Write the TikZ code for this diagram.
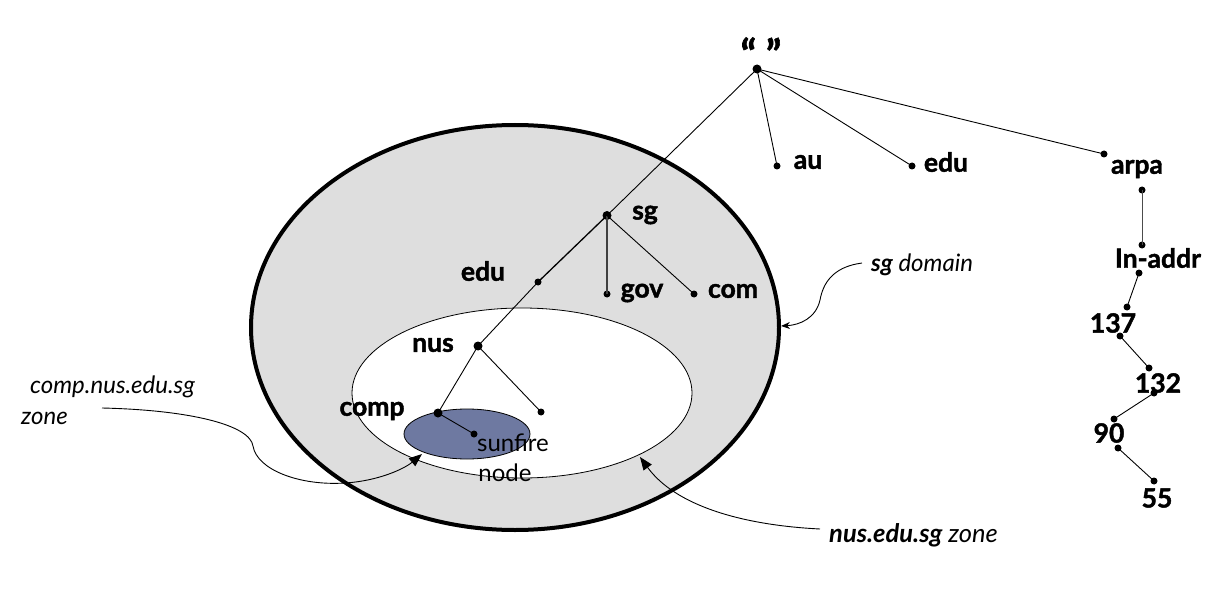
\documentclass[tikz,border=0pt]{standalone}
\usepackage{fontspec}
\setmainfont{Lato}[BoldFeatures={FakeBold=1.6}]
\usetikzlibrary{arrows.meta}
\definecolor{ringgray}{HTML}{DEDEDE}
\definecolor{zoneblue}{HTML}{6E79A1}
\begin{document}
\begin{tikzpicture}[x=1pt,y=-1pt,
  lbl/.style={font=\fontsize{26.5}{30}\selectfont\bfseries, inner sep=0},
  plain/.style={font=\fontsize{24}{28}\selectfont, inner sep=0},
  ann/.style={font=\fontsize{24}{28}\selectfont\itshape, inner sep=0, anchor=west},
  dot/.style={circle,fill=black,inner sep=0,minimum size=7pt},
  bigdot/.style={dot,minimum size=9pt},
  edge/.style={draw=black,line width=0.9pt},
  pointer/.style={draw=black,line width=0.9pt}]
\useasboundingbox (0,0) rectangle (1219,591);
% zones
\draw[fill=ringgray,line width=4pt] (515,327.5) ellipse [x radius=264, y radius=202.5];
\draw[fill=white,line width=0.8pt] (522,393) ellipse [x radius=170, y radius=85];
\draw[fill=zoneblue,line width=0.8pt] (467,434) ellipse [x radius=63, y radius=25];
% dots
\node[bigdot] (root) at (757,69) {};
\node[dot] (au) at (777,166) {};
\node[dot] (eduT) at (912,166) {};
\node[dot] (arpa) at (1104,154) {};
\node[bigdot] (sg) at (607,215.5) {};
\node[dot] (eduS) at (538,282) {};
\node[dot] (gov) at (607,294) {};
\node[dot] (com) at (694,294) {};
\node[bigdot] (nus) at (478,346) {};
\node[bigdot] (comp) at (438,413) {};
\node[dot] (nusx) at (541,412) {};
\node[dot] (sunfire) at (474,434) {};
\node[dot] (a1) at (1142,190) {};
\node[dot] (a2) at (1142,245) {};
\node[dot] (b1) at (1139,273) {};
\node[dot] (b2) at (1127,307) {};
\node[dot] (c1) at (1120,336) {};
\node[dot] (c2) at (1149,368) {};
\node[dot] (d1) at (1154,393) {};
\node[dot] (d2) at (1114,419) {};
\node[dot] (e1) at (1118,448) {};
\node[dot] (e2) at (1154,481) {};
% edges
\draw[edge] (root.center) -- (sg.center);
\draw[edge] (root.center) -- (au.center);
\draw[edge] (root.center) -- (eduT.center);
\draw[edge] (root.center) -- (arpa.center);
\draw[edge,line width=1.3pt] (sg.center) -- (eduS.center);
\draw[edge,line width=1.3pt,draw=black!75] (sg.center) -- (gov.center);
\draw[edge] (sg.center) -- (com.center);
\draw[edge] (eduS.center) -- (nus.center);
\draw[edge] (nus.center) -- (comp.center);
\draw[edge] (nus.center) -- (nusx.center);
\draw[edge] (comp.center) -- (sunfire.center);
\draw[edge,draw=black!70] (a1.center) -- (a2.center);
\draw[edge] (b1.center) -- (b2.center);
\draw[edge] (c1.center) -- (c2.center);
\draw[edge] (d1.center) -- (d2.center);
\draw[edge] (e1.center) -- (e2.center);
% labels
\node[lbl,font=\fontsize{40}{44}\selectfont\bfseries] (tRoot) at (761,53) {“ ”};
\node[lbl] (tAu) at (808,162) {au};
\node[lbl] (tEduT) at (946,162) {edu};
\node[lbl] (tArpa) at (1137,169) {arpa};
\node[lbl] (tInaddr) at (1158,258) {In-addr};
\node[lbl] (t137) at (1113,323) {137};
\node[lbl] (t132) at (1158,383) {132};
\node[lbl] (t90) at (1109,433) {90};
\node[lbl] (t55) at (1157,498) {55};
\node[lbl] (tSg) at (645,215) {sg};
\node[lbl] (tEduS) at (483,271) {edu};
\node[lbl] (tGov) at (642,293) {gov};
\node[lbl] (tCom) at (733,291) {com};
\node[lbl] (tNus) at (433,345) {nus};
\node[lbl] (tComp) at (372,411) {comp};
\node[plain] (tSunfire) at (513,443) {sunfire};
\node[plain] (tNode) at (505,473) {node};
% annotations
\node[ann] (aComp) at (30,387) {comp.nus.edu.sg};
\node[ann] (aZone) at (21,418) {zone};
\node[ann] (aSg) at (871,265) {{\bfseries sg} domain};
\node[ann,font=\fontsize{25.5}{30}\selectfont\itshape] (aNus) at (829,535) {{\bfseries nus.edu.sg} zone};
% pointers
\coordinate (czStart) at (102,408);
\coordinate (czTip) at (422,454);
\coordinate (sgStart) at (862,263);
\coordinate (sgTip) at (781,326);
\coordinate (nzStart) at (820,529);
\coordinate (nzTip) at (640,457);
\draw[pointer,-{Triangle[length=13pt,width=10pt]}] (czStart) .. controls (190,410) and (250,425) .. (253,446) .. controls (257,470) and (300,486) .. (345,483) .. controls (378,481) and (404,469) .. (czTip);
\draw[pointer,-{Stealth[length=9pt,width=7pt]}] (sgStart) .. controls (832,267) and (823,284) .. (820,300) .. controls (816,318) and (800,325) .. (sgTip);
\draw[pointer,-{Triangle[length=13pt,width=10pt]}] (nzStart) .. controls (740,525) and (675,505) .. (nzTip);
\end{tikzpicture}
\end{document}
